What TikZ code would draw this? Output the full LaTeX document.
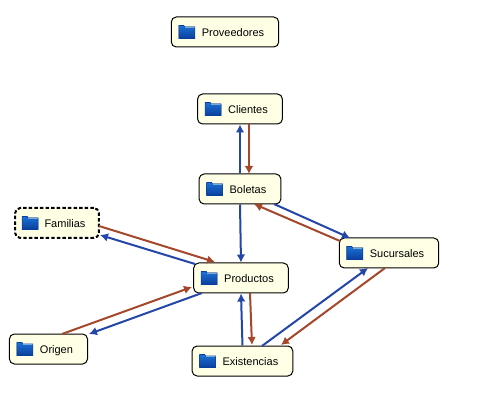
\documentclass[tikz,border=0pt]{standalone}
\usepackage{fontspec}
\setmainfont{Liberation Sans}
\usetikzlibrary{positioning}
\usetikzlibrary{arrows.meta}
\definecolor{boxfill}{HTML}{FFFFE6}
\definecolor{linkblue}{HTML}{2446A8}
\definecolor{linkbrown}{HTML}{A5472A}
\definecolor{foldertop}{HTML}{1C72D4}
\definecolor{folderbot}{HTML}{0A3E9C}
\tikzset{
  tabla/.style={draw=black, line width=.75pt, fill=boxfill, rounded corners=3.75pt, on grid,
    minimum height=22.5pt, inner ysep=0pt, inner xsep=10.9pt, font=\fontsize{8.25}{10}\selectfont,
    text height=7.5pt, text depth=1.2pt},
  elegida/.style={dash pattern=on 2.6pt off 1.6pt, line width=1.5pt, inner xsep=10pt},
  azul/.style={draw=linkblue, line width=1.5pt, -{Latex[length=6pt,width=6.5pt]}},
  cafe/.style={draw=linkbrown, line width=1.5pt, -{Latex[length=6pt,width=6.5pt]}},
  carpeta/.pic={
    \fill[top color=foldertop, bottom color=folderbot] (-8,-6.5) -- (-3,-6.5) -- (-2,-5) -- (8,-5) -- (8,6.5) -- (-8,6.5) -- cycle;
    \fill[cyan!30] (-2,-5) rectangle (8,-3.8);
    \draw[folderbot, line width=.4pt] (-8,-6.5) -- (-3,-6.5) -- (-2,-5) -- (8,-5) -- (8,6.5) -- (-8,6.5) -- cycle;
  },
}
\newcommand{\carp}{\hspace*{12pt}}

\begin{document}
\begin{tikzpicture}[x=.75pt, y=-.75pt]
  \useasboundingbox (0,0) rectangle (492,402);
  % tablas
  \node[tabla] (proveedores) at (225,32) {\carp Proveedores};
  \node[tabla, below right=57.75pt and 11.25pt of proveedores] (clientes) {\carp Clientes};
  \node[tabla, below=60pt of clientes] (boletas) {\carp Boletas};
  \node[tabla, below right=66.75pt and .75pt of boletas] (productos) {\carp Productos};
  \node[tabla, elegida, below left=25.5pt and 137.25pt of boletas] (familias) {\carp Familias};
  \node[tabla, below right=48pt and 111.75pt of boletas] (sucursales) {\carp Sucursales};
  \node[tabla, below left=53.25pt and 144.4pt of productos] (origen) {\carp Origen};
  \node[tabla, below right=62.25pt and 1.1pt of productos] (existencias) {\carp Existencias};

  \foreach \tabla in {proveedores,clientes,boletas,productos,familias,sucursales,origen,existencias}
    \pic at ([xshift=12pt]\tabla.west) {carpeta};

  % relaciones
  \draw[azul] (boletas.north) -- (clientes.south);
  \draw[cafe] ([shift={(9,15)}]clientes.center) -- ([shift={(9,-15)}]boletas.center);
  \draw[azul] (boletas.south) -- (productos.north);
  \draw[azul] ([shift={(-46,-14)}]productos.center) -- ([shift={(43,12)}]familias.center);
  \draw[cafe] ([shift={(42,3)}]familias.center) -- ([shift={(-26,-16)}]productos.center);
  \draw[cafe] ([shift={(13.5,-15)}]origen.center) -- ([shift={(-49,9)}]productos.center);
  \draw[azul] ([shift={(-39,15)}]productos.center) -- ([shift={(40.5,-15)}]origen.center);
  \draw[azul] (existencias.north) -- (productos.south);
  \draw[cafe] ([shift={(9,15)}]productos.center) -- ([shift={(9.5,-16)}]existencias.center);
  \draw[azul] ([shift={(19.5,-15)}]existencias.center) -- ([shift={(-21,15)}]sucursales.center);
  \draw[cafe] ([shift={(-4,15)}]sucursales.center) -- ([shift={(38.5,-16)}]existencias.center);
  \draw[azul] ([shift={(34,15)}]boletas.center) -- ([shift={(-39,-15)}]sucursales.center);
  \draw[cafe] ([shift={(-49,-12)}]sucursales.center) -- ([shift={(14,15)}]boletas.center);
\end{tikzpicture}
\end{document}
